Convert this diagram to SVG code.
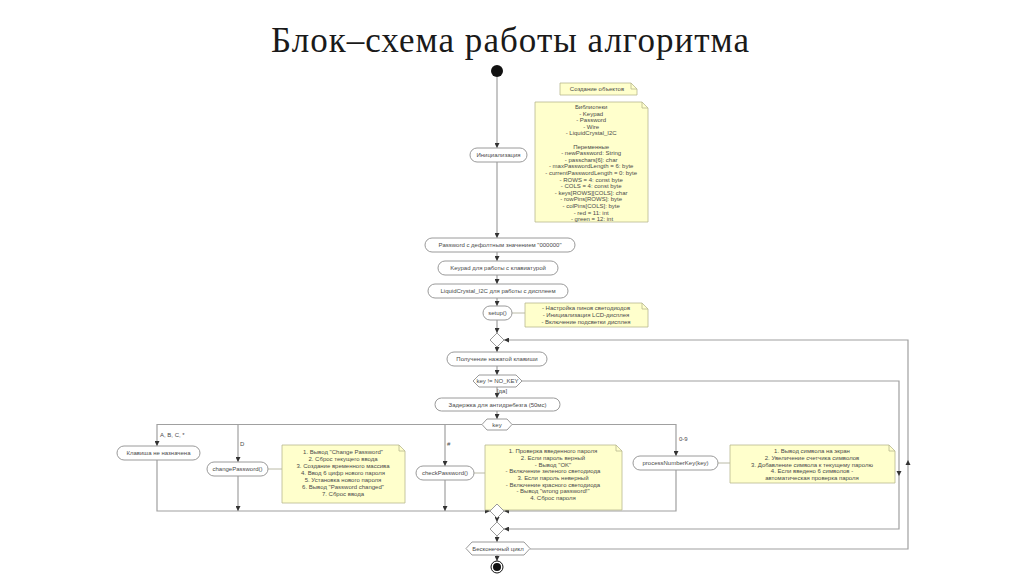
<svg xmlns="http://www.w3.org/2000/svg" width="1024" height="574" viewBox="0 0 1024 574">
<style>
.bg{fill:#ffffff}
.title{font-family:"Liberation Serif","DejaVu Serif",serif;font-size:35px;fill:#1a1a1a;text-anchor:middle}
.nd{fill:#ffffff;stroke:#9a9a9a;stroke-width:1}
.nt{fill:#ffffcc;stroke:#b8b890;stroke-width:0.8}
.fold{fill:none;stroke:#b8b890;stroke-width:0.8}
.t{font-family:"Liberation Sans","DejaVu Sans",sans-serif;font-size:6px;fill:#4a4a4a;text-anchor:middle}
.tl{font-family:"Liberation Sans","DejaVu Sans",sans-serif;font-size:6px;fill:#4a4a4a;text-anchor:start}
.e{fill:none;stroke:#a0a0a0;stroke-width:1.2}
.nl{fill:none;stroke:#a8a890;stroke-width:0.8}
.ah{fill:#333}
</style>
<defs>
<marker id="arr" viewBox="0 0 8 8" refX="8" refY="4" markerWidth="5" markerHeight="5" markerUnits="userSpaceOnUse" orient="auto">
<path d="M0,0 L8,4 L0,8 z" fill="#333"/>
</marker>
</defs>
<rect class="bg" x="0" y="0" width="1024" height="574"/>
<text class="title" x="510" y="52" textLength="478" lengthAdjust="spacing">Блок–схема работы алгоритма</text>

<g id="connectors">
<path class="e" d="M497,77 V148" marker-end="url(#arr)"/>
<path class="e" d="M497,162 V238" marker-end="url(#arr)"/>
<path class="e" d="M497,252 V261" marker-end="url(#arr)"/>
<path class="e" d="M497,275 V284" marker-end="url(#arr)"/>
<path class="e" d="M497,298 V306" marker-end="url(#arr)"/>
<path class="e" d="M497,320 V333" marker-end="url(#arr)"/>
<path class="e" d="M497,347 V352" marker-end="url(#arr)"/>
<path class="e" d="M497,366 V375" marker-end="url(#arr)"/>
<path class="e" d="M497,387 V398" marker-end="url(#arr)"/>
<path class="e" d="M497,411 V419" marker-end="url(#arr)"/>
<path class="e" d="M482,424.5 H157 V446" marker-end="url(#arr)"/>
<path class="e" d="M238,424.5 V462" marker-end="url(#arr)"/>
<path class="e" d="M445,424.5 V466" marker-end="url(#arr)"/>
<path class="e" d="M512,424.5 H676 V456" marker-end="url(#arr)"/>
<path class="e" d="M157,460 V511 H490" marker-end="url(#arr)"/>
<path class="e" d="M238,476 V511" marker-end="url(#arr)"/>
<path class="e" d="M445,480 V511" marker-end="url(#arr)"/>
<path class="e" d="M676,470 V511 H504" marker-end="url(#arr)"/>
<path class="e" d="M497,518 V522" marker-end="url(#arr)"/>
<path class="e" d="M497,536 V542" marker-end="url(#arr)"/>
<path class="e" d="M497,555 V561" marker-end="url(#arr)"/>
<path class="e" d="M522,381 H899 V529 H504" marker-end="url(#arr)"/>
<path class="e" d="M530,549 H908 V340 H504" marker-end="url(#arr)"/>
<polygon class="ah" points="896.5,471 901.5,471 899,476"/>
<polygon class="ah" points="905.5,465 910.5,465 908,460"/>
<path class="nl" d="M512,313 H525"/>
<path class="nl" d="M268,469 H282"/>
<path class="nl" d="M474,473 H485"/>
<path class="nl" d="M718,463 H730"/>
<text class="tl" x="160" y="437">A, B, C, *</text>
<text class="tl" x="240" y="446">D</text>
<text class="tl" x="447" y="446">#</text>
<text class="tl" x="679" y="441">0-9</text>
<text class="t" x="502" y="393">[да]</text>
</g>

<g id="start"><circle cx="497" cy="71" r="6" fill="#111"/></g>

<g id="note-objects">
<path class="nt" d="M560,83 H631 L637,89 V95 H560 Z"/><path class="fold" d="M631,83 V89 H637"/>
<text class="t" x="597" y="91">Создание объектов</text>
</g>

<g id="note-vars">
<path class="nt" d="M535,102 H642 L648,108 V222 H535 Z"/><path class="fold" d="M642,102 V108 H648"/>
<text class="t" x="592">
<tspan x="592" y="109">Библиотеки</tspan>
<tspan x="592" y="115.6">- Keypad</tspan>
<tspan x="592" y="122.2">- Password</tspan>
<tspan x="592" y="128.8">- Wire</tspan>
<tspan x="592" y="135.4">- LiquidCrystal_I2C</tspan>
<tspan x="592" y="148.6">Переменные</tspan>
<tspan x="592" y="155.2">- newPassword: String</tspan>
<tspan x="592" y="161.8">- passchars[6]: char</tspan>
<tspan x="592" y="168.4">- maxPasswordLength = 6: byte</tspan>
<tspan x="592" y="175">- currentPasswordLength = 0: byte</tspan>
<tspan x="592" y="181.6">- ROWS = 4: const byte</tspan>
<tspan x="592" y="188.2">- COLS = 4: const byte</tspan>
<tspan x="592" y="194.8">- keys[ROWS][COLS]: char</tspan>
<tspan x="592" y="201.4">- rowPins[ROWS]: byte</tspan>
<tspan x="592" y="208">- colPins[COLS]: byte</tspan>
<tspan x="592" y="214.6">- red = 11: int</tspan>
<tspan x="592" y="221">- green = 12: int</tspan>
</text>
</g>

<g id="init"><rect class="nd" x="470" y="148" width="57" height="14" rx="7"/><text class="t" x="498.5" y="157">Инициализация</text></g>
<g id="password"><rect class="nd" x="425" y="238" width="150" height="14" rx="7"/><text class="t" x="500" y="247">Password с дефолтным значением "000000"</text></g>
<g id="keypad"><rect class="nd" x="438" y="261" width="120" height="14" rx="7"/><text class="t" x="498" y="270">Keypad для работы с клавиатурой</text></g>
<g id="lcd"><rect class="nd" x="428" y="284" width="140" height="14" rx="7"/><text class="t" x="498" y="293">LiquidCrystal_I2C для работы с дисплеем</text></g>
<g id="setup"><rect class="nd" x="483" y="306" width="29" height="14" rx="7"/><text class="t" x="497.5" y="315">setup()</text></g>

<g id="note-setup">
<path class="nt" d="M525,303 H642 L648,309 V327 H525 Z"/><path class="fold" d="M642,303 V309 H648"/>
<text class="t"><tspan x="586" y="310">- Настройка пинов светодиодов</tspan><tspan x="586" y="317">- Инициализация LCD-дисплея</tspan><tspan x="586" y="324">- Включение подсветки дисплея</tspan></text>
</g>

<g id="merge-loop"><polygon class="nd" points="497,333 504,340 497,347 490,340"/></g>
<g id="get-key"><rect class="nd" x="447" y="352" width="100" height="14" rx="7"/><text class="t" x="497" y="361">Получение нажатой клавиши</text></g>
<g id="check-key"><polygon class="nd" points="473,381 479,375 516,375 522,381 516,387 479,387"/><text class="t" x="497.5" y="383">key != NO_KEY</text></g>
<g id="debounce"><rect class="nd" x="435" y="398" width="125" height="13" rx="6.5"/><text class="t" x="497.5" y="406.5">Задержка для антидребезга (50мс)</text></g>
<g id="switch-key"><polygon class="nd" points="482,424.5 487,419 507,419 512,424.5 507,430 487,430"/><text class="t" x="497" y="426.5">key</text></g>

<g id="unassigned"><rect class="nd" x="117" y="446" width="83" height="14" rx="7"/><text class="t" x="158.5" y="455">Клавиша не назначена</text></g>

<g id="change-password"><rect class="nd" x="207" y="462" width="61" height="14" rx="7"/><text class="t" x="237.5" y="471">changePassword()</text></g>
<g id="note-change">
<path class="nt" d="M282,445 H399 L405,451 V503 H282 Z"/><path class="fold" d="M399,445 V451 H405"/>
<text class="t"><tspan x="343" y="454">1. Вывод "Change Password"</tspan><tspan x="343" y="461">2. Сброс текущего ввода</tspan><tspan x="343" y="468">3. Создание временного массива</tspan><tspan x="343" y="475">4. Ввод 6 цифр нового пароля</tspan><tspan x="343" y="482">5. Установка нового пароля</tspan><tspan x="343" y="489">6. Вывод "Password changed"</tspan><tspan x="343" y="496">7. Сброс ввода</tspan></text>
</g>

<g id="check-password"><rect class="nd" x="416" y="466" width="58" height="14" rx="7"/><text class="t" x="445" y="475">checkPassword()</text></g>
<g id="note-check">
<path class="nt" d="M485,445 H616 L622,451 V510 H485 Z"/><path class="fold" d="M616,445 V451 H622"/>
<text class="t"><tspan x="553" y="453">1. Проверка введенного пароля</tspan><tspan x="553" y="460">2. Если пароль верный</tspan><tspan x="553" y="466.5">- Вывод "OK"</tspan><tspan x="553" y="473">- Включение зеленого светодиода</tspan><tspan x="553" y="480">3. Если пароль неверный</tspan><tspan x="553" y="486.5">- Включение красного светодиода</tspan><tspan x="553" y="493">- Вывод "wrong password!"</tspan><tspan x="553" y="500">4. Сброс пароля</tspan></text>
</g>

<g id="process-key"><rect class="nd" x="633" y="456" width="85" height="14" rx="7"/><text class="t" x="675.5" y="465">processNumberKey(key)</text></g>
<g id="note-process">
<path class="nt" d="M730,445 H889 L895,451 V483 H730 Z"/><path class="fold" d="M889,445 V451 H895"/>
<text class="t"><tspan x="812" y="453">1. Вывод символа на экран</tspan><tspan x="812" y="460">2. Увеличение счетчика символов</tspan><tspan x="812" y="466.5">3. Добавление символа к текущему паролю</tspan><tspan x="812" y="473">4. Если введено 6 символов -</tspan><tspan x="812" y="480">автоматическая проверка пароля</tspan></text>
</g>

<g id="merge-switch"><polygon class="nd" points="497,504 504,511 497,518 490,511"/></g>
<g id="merge-nokey"><polygon class="nd" points="497,522 504,529 497,536 490,529"/></g>
<g id="loop"><polygon class="nd" points="466,548.5 472,542 524,542 530,548.5 524,555 472,555"/><text class="t" x="498" y="550.5">Бесконечный цикл</text></g>
<g id="end"><circle cx="497" cy="567" r="6" fill="#fff" stroke="#111" stroke-width="1"/><circle cx="497" cy="567" r="4" fill="#111"/></g>
</svg>
